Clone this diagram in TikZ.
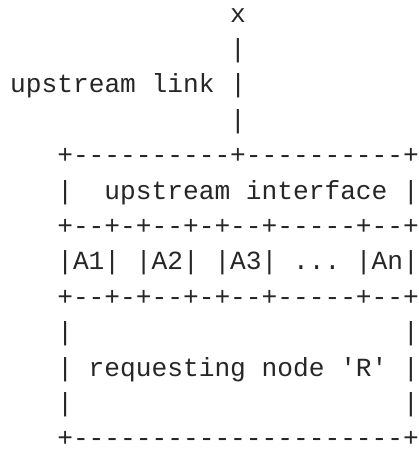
\documentclass[tikz,border=0pt]{standalone}
\usepackage{fontspec}
\setmonofont{Liberation Mono}
\usepackage{xcolor}
\usepackage{tikz}

\begin{document}
\begin{tikzpicture}[
    x=1pt, y=-1pt,
    row/.style={anchor=base west, inner sep=0pt, text=black!85, font=\ttfamily\fontsize{26.2}{35.4}\selectfont}
]
    \useasboundingbox (0,0) rectangle (418,450);
    \node [row] (endx) at (229.8,22) {x};
    \node [row] (linktop) at (229.8,57.4) {|};
    \node [row] (link) at (10,92.8) {upstream link |};
    \node [row] (linkbot) at (229.8,128.2) {|};
    \node [row] (boxtop) at (57.1,163.6) {+----------+----------+};
    \node [row] (iface) at (57.1,199) {|~~upstream interface |};
    \node [row] (portstop) at (57.1,234.4) {+--+-+--+-+--+-----+--+};
    \node [row] (ports) at (57.1,269.8) {|A1| |A2| |A3| ... |An|};
    \node [row] (portsbot) at (57.1,305.2) {+--+-+--+-+--+-----+--+};
    \node [row] (padtop) at (57.1,340.6) {|~~~~~~~~~~~~~~~~~~~~~|};
    \node [row] (rnode) at (57.1,376) {| requesting node 'R' |};
    \node [row] (padbot) at (57.1,411.4) {|~~~~~~~~~~~~~~~~~~~~~|};
    \node [row] (boxbot) at (57.1,446.8) {+---------------------+};
\end{tikzpicture}
\end{document}
